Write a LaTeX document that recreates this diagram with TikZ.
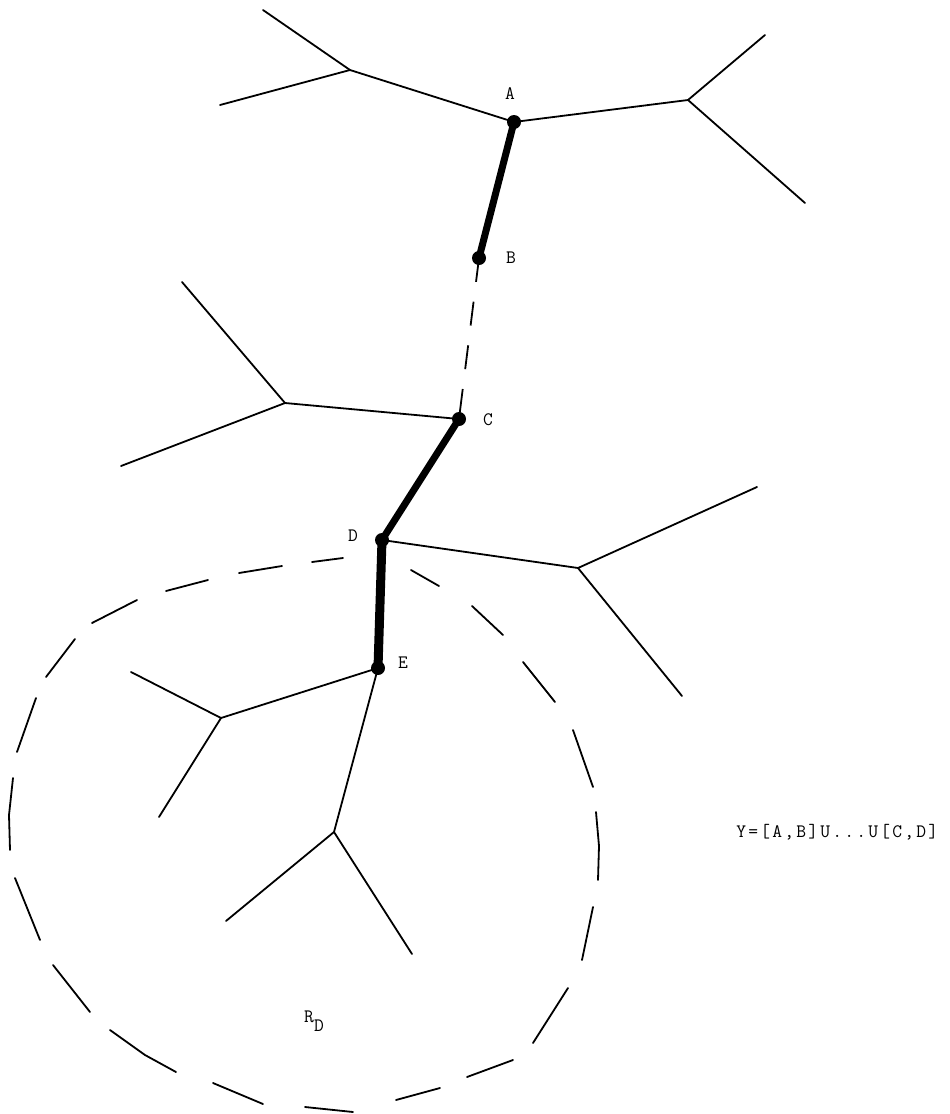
\documentclass[tikz,border=0pt]{standalone}
\usepackage{fontspec}
\newcommand\chbox[1]{\makebox[12pt][c]{#1}}
\begin{document}
\begin{tikzpicture}[x=1pt,y=-1pt,
  edge/.style={line width=1.8pt, line cap=round},
  pathseg/.style={line width=7pt, line cap=round},
  gapseg/.style={line width=1.8pt, dash pattern=on 24pt off 20pt},
  rim/.style={line width=1.8pt, line cap=round},
  dotmark/.style={fill=black},
  lab/.style={font=\ttfamily\fontsize{19}{21}\selectfont, inner sep=0pt}]
\useasboundingbox (0,0) rectangle (950,1114);
% tree vertices
\coordinate (L1) at (350,70);
\coordinate (L1a) at (263,10);
\coordinate (L1b) at (220,105);
\coordinate (A) at (514,122);
\coordinate (R1) at (688,100);
\coordinate (R1a) at (765,35);
\coordinate (R1b) at (805,203);
\coordinate (B) at (479,258);
\coordinate (C) at (459,419);
\coordinate (L2) at (285,403);
\coordinate (L2a) at (182,282);
\coordinate (L2b) at (121,466);
\coordinate (D) at (382,540);
\coordinate (R2) at (578,568);
\coordinate (R2a) at (757,487);
\coordinate (R2b) at (682,696);
\coordinate (E) at (378,668);
\coordinate (L3) at (221,718);
\coordinate (L3a) at (131,672);
\coordinate (L3b) at (159,817);
\coordinate (M) at (334,832);
\coordinate (Ma) at (226,921);
\coordinate (Mb) at (412,954);
% thin edges
\draw[edge] (L1a) -- (L1) -- (A) -- (R1) -- (R1a);
\draw[edge] (L1b) -- (L1);
\draw[edge] (R1) -- (R1b);
\draw[edge] (L2a) -- (L2) -- (C);
\draw[edge] (L2b) -- (L2);
\draw[edge] (D) -- (R2) -- (R2a);
\draw[edge] (R2) -- (R2b);
\draw[edge] (L3a) -- (L3) -- (E) -- (M) -- (Ma);
\draw[edge] (L3b) -- (L3);
\draw[edge] (M) -- (Mb);
% the path Y
\draw[pathseg] (A) -- (B);
\draw[gapseg] (B) -- (C);
\draw[pathseg] (C) -- (D);
\draw[pathseg, line width=9pt] (D) -- (E);
\foreach \p in {A,B,C,D,E} \fill[dotmark] (\p) circle (7pt);
% labels
\node[lab] (lA) at (510,94) {A};
\node[lab] (lB) at (511,258) {B};
\node[lab] (lC) at (488,420) {C};
\node[lab] (lD) at (353,536) {D};
\node[lab] (lE) at (403,663) {E};
\node[lab, anchor=west] (form) at (735,832) {\chbox{Y}\chbox{=}\chbox{[}\chbox{A}\chbox{,}\chbox{B}\chbox{]}\chbox{U}\chbox{.}\chbox{.}\chbox{.}\chbox{U}\chbox{[}\chbox{C}\chbox{,}\chbox{D}\chbox{]}};
\node[lab] (RD) at (314,1021) {R\raisebox{-1.1ex}{D}};
% dashed region boundary R_D
\draw[rim] (312,562) -- (343,558);
\draw[rim] (411,570) -- (439,586);
\draw[rim] (472,606) -- (503,635);
\draw[rim] (523,662) -- (555,702);
\draw[rim] (573,730) -- (593,787);
\draw[rim] (596,812) -- (599,846) -- (598,880);
\draw[rim] (593,907) -- (582,960);
\draw[rim] (568,988) -- (533,1043);
\draw[rim] (513,1060) -- (467,1077);
\draw[rim] (440,1088) -- (396,1100);
\draw[rim] (353,1112) -- (305,1107);
\draw[rim] (263,1104) -- (213,1083);
\draw[rim] (176,1072) -- (145,1055) -- (110,1030);
\draw[rim] (90,1012) -- (53,965);
\draw[rim] (40,940) -- (15,878);
\draw[rim] (10,850) -- (9,815) -- (13,778);
\draw[rim] (17,752) -- (36,698);
\draw[rim] (46,677) -- (75,639);
\draw[rim] (92,623) -- (137,600);
\draw[rim] (166,591) -- (208,580);
\draw[rim] (239,573) -- (282,566);
\end{tikzpicture}
\end{document}
